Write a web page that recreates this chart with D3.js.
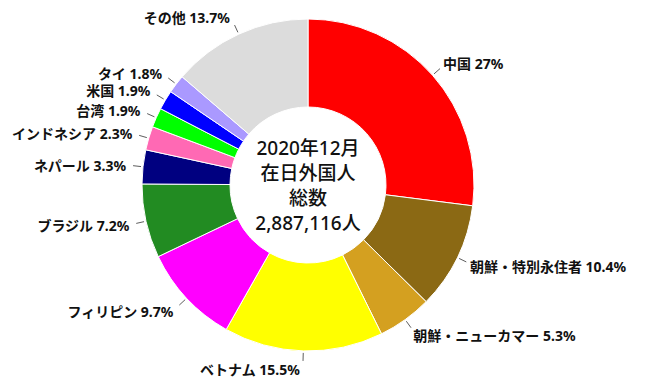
<!DOCTYPE html>
<html>
<head>
<meta charset="utf-8">
<script src="https://cdn.jsdelivr.net/npm/d3@7"></script>
<style>
  html, body { margin: 0; padding: 0; background: #fff; }
  svg { display: block; }
  text { font-family: "Noto Sans", "Noto Sans CJK JP", sans-serif; fill: #111; }
</style>
</head>
<body>
<svg id="chart" width="661" height="387"></svg>
<script>
// 在日外国人 2020年12月 (%)
var names = ['中国', '朝鮮・特別永住者', '朝鮮・ニューカマー', 'ベトナム', 'フィリピン', 'ブラジル',
  'ネパール', 'インドネシア', '台湾', '米国', 'タイ', 'その他'];
var shares = [27, 10.4, 5.3, 15.5, 9.7, 7.2, 3.3, 2.3, 1.9, 1.9, 1.8, 13.7];
var colors = ['#ff0000', '#8b6914', '#d4a020', '#ffff00', '#ff00ff', '#228b22',
  '#000080', '#ff69b4', '#00ff00', '#0000ff', '#aa99ff', '#dcdcdc'];
var centerLines = ['2020年12月', '在日外国人', '総数', '2,887,116人'];

var cx = 308, cy = 185;
var rOuter = 166, rInner = 78;

var svg = d3.select('#chart');
var g = svg.append('g').attr('transform', 'translate(' + cx + ',' + cy + ')');

var data = names.map(function(n, i){ return {name: n, value: shares[i], color: colors[i]}; });

var pie = d3.pie().sort(null).value(function(d){ return d.value; });
var arcs = pie(data);
var arc = d3.arc().innerRadius(rInner).outerRadius(rOuter);

g.selectAll('path.slice')
  .data(arcs)
  .enter().append('path')
  .attr('class', 'slice')
  .attr('d', arc)
  .attr('fill', function(d){ return d.data.color; })
  .attr('stroke', '#fff')
  .attr('stroke-width', 1);

// leader lines + labels
function polar(r, a){ return [r * Math.sin(a), -r * Math.cos(a)]; }

arcs.forEach(function(d){
  var mid = (d.startAngle + d.endAngle) / 2;
  var p1 = polar(rOuter + 2, mid);
  var p2 = polar(rOuter + 10, mid);
  var p3 = polar(rOuter + 14, mid);
  var right = Math.sin(mid) > 0.02;
  g.append('line')
    .attr('x1', p1[0]).attr('y1', p1[1])
    .attr('x2', p2[0]).attr('y2', p2[1])
    .attr('stroke', '#333')
    .attr('stroke-width', 0.8);
  g.append('text')
    .attr('x', p3[0] + (right ? 0 : -3))
    .attr('y', p3[1] + 1 - 4.5 * Math.cos(mid))
    .attr('dy', '0.35em')
    .attr('text-anchor', right ? 'start' : 'end')
    .attr('font-size', 14)
    .attr('font-weight', 'bold')
    .text(d.data.name + ' ' + d.data.value + '%');
});

// center title
var lineH = 25;
g.selectAll('text.center')
  .data(centerLines)
  .enter().append('text')
  .attr('class', 'center')
  .attr('x', 0)
  .attr('y', function(d, i){ return (i - (centerLines.length - 1) / 2) * lineH + 1; })
  .attr('dy', '0.35em')
  .attr('text-anchor', 'middle')
  .attr('font-size', 19)
  .attr('font-weight', 500)
  .text(function(d){ return d; });
</script>
</body>
</html>
